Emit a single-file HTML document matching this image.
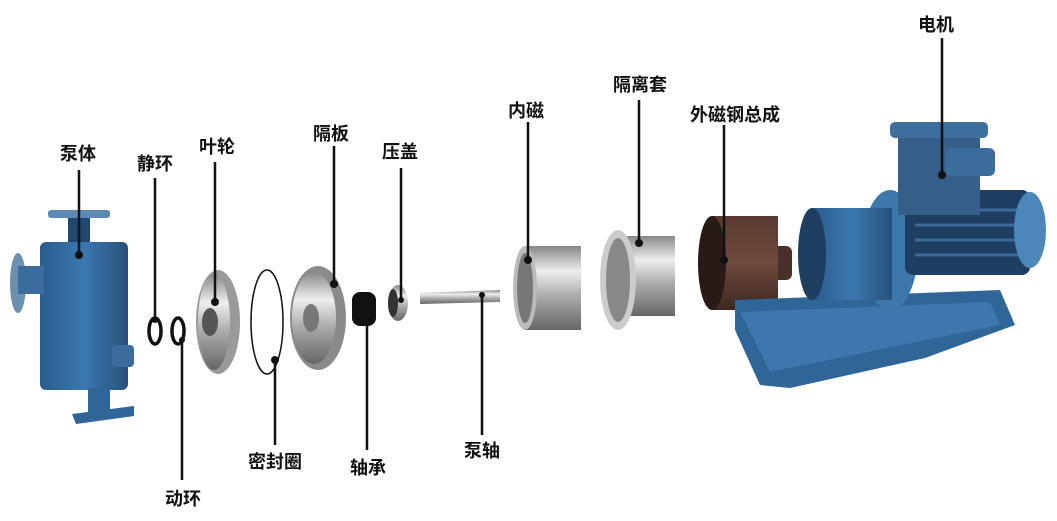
<!DOCTYPE html>
<html><head><meta charset="utf-8"><style>
html,body{margin:0;padding:0;background:#fff}
svg{display:block}
text{font-family:"Liberation Sans","Noto Sans CJK SC",sans-serif;font-weight:bold;font-size:18px;fill:#111}
</style></head><body>
<svg width="1057" height="521" viewBox="0 0 1057 521" xmlns="http://www.w3.org/2000/svg">
<defs>
<linearGradient id="steel" x1="0" y1="0" x2="0" y2="1">
<stop offset="0" stop-color="#888"/><stop offset="0.3" stop-color="#eee"/><stop offset="0.6" stop-color="#aaa"/><stop offset="1" stop-color="#666"/></linearGradient>
<linearGradient id="blue" x1="0" y1="0" x2="1" y2="0">
<stop offset="0" stop-color="#2a5c8c"/><stop offset="0.5" stop-color="#3b78b0"/><stop offset="1" stop-color="#27507a"/></linearGradient>
<linearGradient id="brown" x1="0" y1="0" x2="0" y2="1">
<stop offset="0" stop-color="#5a3a30"/><stop offset="0.5" stop-color="#6d4a3c"/><stop offset="1" stop-color="#3e2820"/></linearGradient>
</defs>
<!-- pump body -->
<rect x="48" y="210" width="62" height="8" rx="3" fill="#5d8ab3"/>
<rect x="68" y="218" width="22" height="28" fill="#1f4770"/>
<rect x="40" y="242" width="88" height="148" rx="6" fill="url(#blue)"/>
<ellipse cx="18" cy="283" rx="8" ry="30" fill="#6d8fb0"/>
<rect x="18" y="266" width="26" height="28" fill="#3a6c9c"/>
<rect x="112" y="345" width="22" height="22" rx="4" fill="#3a6c9c"/>
<rect x="88" y="388" width="22" height="30" fill="#2f6597"/>
<polygon points="72,414 134,406 134,416 76,424" fill="#2f6597"/>
<!-- rings -->
<ellipse cx="155" cy="331" rx="6" ry="13" fill="none" stroke="#111" stroke-width="3.5"/>
<ellipse cx="178" cy="331" rx="6" ry="13" fill="none" stroke="#111" stroke-width="3.5"/>
<!-- impeller -->
<ellipse cx="218" cy="322" rx="22" ry="52" fill="#9a9a9a"/>
<ellipse cx="214" cy="322" rx="16" ry="48" fill="url(#steel)"/>
<ellipse cx="210" cy="322" rx="8" ry="14" fill="#555"/>
<!-- seal ring -->
<ellipse cx="267" cy="322" rx="16" ry="52" fill="none" stroke="#111" stroke-width="1.5"/>
<!-- partition -->
<ellipse cx="318" cy="318" rx="28" ry="52" fill="#8a8a8a"/>
<ellipse cx="314" cy="318" rx="22" ry="46" fill="url(#steel)"/>
<ellipse cx="311" cy="318" rx="8" ry="14" fill="#777"/>
<!-- bearing -->
<rect x="352" y="292" width="24" height="34" rx="8" fill="#111"/>
<!-- gland -->
<ellipse cx="398" cy="303" rx="10" ry="18" fill="url(#steel)"/>
<ellipse cx="393" cy="303" rx="5" ry="14" fill="#333"/>
<!-- shaft -->
<polygon points="420,293 500,290 500,302 420,304" fill="url(#steel)"/>
<!-- inner magnet -->
<rect x="525" y="246" width="56" height="84" fill="url(#steel)"/>
<ellipse cx="525" cy="288" rx="12" ry="42" fill="#bbb"/>
<ellipse cx="525" cy="288" rx="8" ry="35" fill="#777"/>
<!-- isolation sleeve -->
<rect x="625" y="236" width="50" height="80" fill="url(#steel)"/>
<ellipse cx="618" cy="280" rx="18" ry="50" fill="#ccc"/>
<ellipse cx="618" cy="280" rx="12" ry="42" fill="#888"/>
<!-- outer magnet -->
<rect x="770" y="246" width="22" height="34" rx="6" fill="#4a3028"/>
<rect x="712" y="216" width="66" height="94" fill="url(#brown)"/>
<ellipse cx="712" cy="263" rx="14" ry="47" fill="#2a1a16"/>
<!-- motor base -->
<polygon points="735,300 1000,290 1015,325 925,358 790,388 760,385 735,330" fill="#2f6597"/>
<polygon points="740,312 990,302 1000,325 770,372" fill="#3c77ad"/>
<!-- adapter -->
<ellipse cx="890" cy="250" rx="28" ry="60" fill="#3d78ac"/>
<rect x="812" y="208" width="80" height="92" fill="url(#blue)"/>
<ellipse cx="812" cy="254" rx="14" ry="46" fill="#1e3e60"/>
<!-- motor -->
<rect x="905" y="190" width="125" height="85" rx="8" fill="#1f3f62"/>
<g stroke="#3a6a98" stroke-width="3"><line x1="915" y1="210" x2="1025" y2="210"/><line x1="915" y1="225" x2="1025" y2="225"/><line x1="915" y1="240" x2="1025" y2="240"/><line x1="915" y1="255" x2="1025" y2="255"/></g>
<ellipse cx="1030" cy="230" rx="16" ry="38" fill="#4d86b8"/>
<rect x="898" y="135" width="82" height="80" fill="#355f88"/>
<rect x="890" y="122" width="98" height="16" rx="5" fill="#3d6f9e"/>
<rect x="945" y="148" width="50" height="28" rx="6" fill="#3b6d9c"/>
<!-- leader lines -->
<g stroke="#111" stroke-width="2.5">
<line x1="79" y1="170" x2="79" y2="255"/>
<line x1="155" y1="178" x2="155" y2="320"/>
<line x1="215" y1="162" x2="215" y2="302"/>
<line x1="334" y1="146" x2="334" y2="284"/>
<line x1="401" y1="168" x2="401" y2="300"/>
<line x1="528" y1="122" x2="528" y2="260"/>
<line x1="639" y1="100" x2="639" y2="243"/>
<line x1="724" y1="125" x2="724" y2="260"/>
<line x1="942" y1="38" x2="942" y2="175"/>
<line x1="182" y1="340" x2="182" y2="480"/>
<line x1="275" y1="360" x2="275" y2="445"/>
<line x1="367" y1="300" x2="367" y2="450"/>
<line x1="482" y1="295" x2="482" y2="435"/>
</g>
<g fill="#111">
<circle cx="79" cy="255" r="4"/><circle cx="155" cy="320" r="3"/><circle cx="215" cy="302" r="4"/>
<circle cx="334" cy="284" r="4"/><circle cx="401" cy="300" r="3"/><circle cx="528" cy="260" r="4"/>
<circle cx="639" cy="243" r="4"/><circle cx="724" cy="260" r="4"/><circle cx="942" cy="175" r="4"/>
<circle cx="182" cy="340" r="3"/><circle cx="275" cy="360" r="4"/><circle cx="367" cy="300" r="3"/><circle cx="482" cy="295" r="3"/>
</g>
<text x="78" y="160" text-anchor="middle">泵体</text>
<text x="155" y="170" text-anchor="middle">静环</text>
<text x="217" y="153" text-anchor="middle">叶轮</text>
<text x="331" y="140" text-anchor="middle">隔板</text>
<text x="400" y="158" text-anchor="middle">压盖</text>
<text x="526" y="117" text-anchor="middle">内磁</text>
<text x="640" y="91" text-anchor="middle">隔离套</text>
<text x="735" y="121" text-anchor="middle">外磁钢总成</text>
<text x="936" y="31" text-anchor="middle">电机</text>
<text x="275" y="468" text-anchor="middle">密封圈</text>
<text x="368" y="474" text-anchor="middle">轴承</text>
<text x="482" y="457" text-anchor="middle">泵轴</text>
<text x="183" y="505" text-anchor="middle">动环</text>
</svg>
</body></html>
